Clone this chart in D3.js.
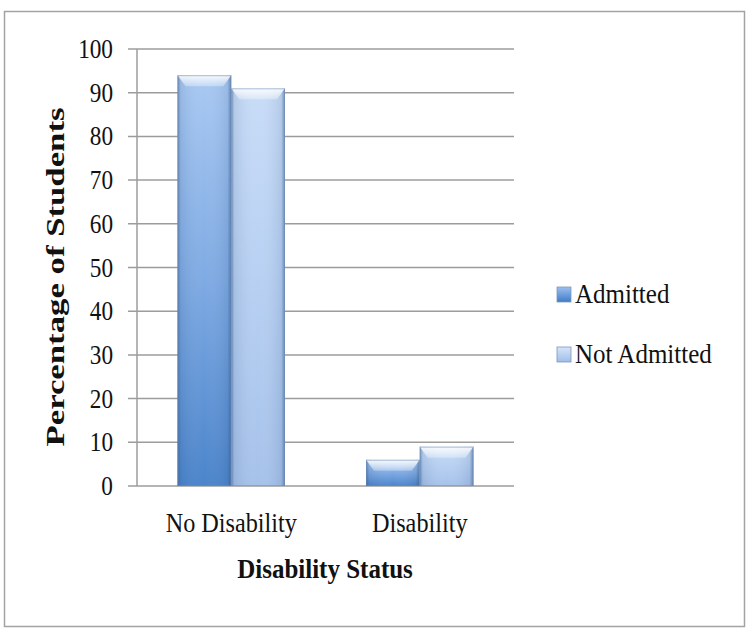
<!DOCTYPE html>
<html>
<head>
<meta charset="utf-8">
<script src="https://cdn.jsdelivr.net/npm/d3@7/dist/d3.min.js"></script>
<style>
  html, body { margin: 0; padding: 0; background: #fff; }
  svg { display: block; }
  text { font-family: "Liberation Serif", "DejaVu Serif", serif; fill: #111; }
</style>
</head>
<body>
<svg id="chart" width="747" height="628"></svg>
<script>
// Share of students by disability status, admitted vs not admitted
const categories = ["No Disability", "Disability"];
const seriesNames = ["Admitted", "Not Admitted"];
const admitted = [94, 6];
const notAdmitted = [91, 9];
const yTicks = [0, 10, 20, 30, 40, 50, 60, 70, 80, 90, 100];

const svg = d3.select("#chart");

// outer frame
svg.append("rect")
  .attr("x", 4.5).attr("y", 11.5)
  .attr("width", 740).attr("height", 615)
  .attr("fill", "#fff").attr("stroke", "#a3a3a3").attr("stroke-width", 1.5);

const plot = { left: 137, right: 514, top: 49, bottom: 486 };

const x = d3.scaleBand().domain(categories).range([plot.left, plot.right]).paddingInner(0.43).paddingOuter(0.215);
const xs = d3.scaleBand().domain(seriesNames).range([0, x.bandwidth()]);
const y = d3.scaleLinear().domain([0, 100]).range([plot.bottom, plot.top]);

// gradients
const defs = svg.append("defs");
function grad(id, horiz, stops) {
  const g = defs.append("linearGradient").attr("id", id)
    .attr("x1", 0).attr("y1", 0).attr("x2", horiz ? 1 : 0).attr("y2", horiz ? 0 : 1);
  stops.forEach(s => g.append("stop").attr("offset", s[0]).attr("stop-color", s[1])
    .attr("stop-opacity", s[2] == null ? 1 : s[2]));
}
grad("gAdm", false, [[0, "#a9c9f2"], [0.5, "#7eaae3"], [1, "#4a84cb"]]);
grad("gNot", false, [[0, "#c8dcf7"], [0.5, "#b7d0f2"], [1, "#a6c2ea"]]);
grad("gEdge", true, [[0, "#2a4d80", 0.5], [0.06, "#2a4d80", 0.12], [0.5, "#ffffff", 0.0], [0.93, "#2a4d80", 0.12], [1, "#2a4d80", 0.55]]);
grad("gTop", false, [[0, "#ffffff", 0.9], [1, "#ffffff", 0.3]]);
grad("lgAdm", false, [[0, "#9cc0ee"], [1, "#3f7cc8"]]);
grad("lgNot", false, [[0, "#d6e5f9"], [1, "#9fbde8"]]);

// gridlines, tick marks and value axis
svg.append("g").selectAll("line").data(yTicks).join("line")
  .attr("x1", plot.left - 9).attr("x2", plot.right)
  .attr("y1", d => y(d)).attr("y2", d => y(d))
  .attr("stroke", "#9c9c9c").attr("stroke-width", 1.5);
svg.append("line")
  .attr("x1", plot.left).attr("x2", plot.left)
  .attr("y1", y(100)).attr("y2", y(0))
  .attr("stroke", "#9c9c9c").attr("stroke-width", 1.5);

// tick labels, slightly narrow and tall
svg.append("g").selectAll("text").data(yTicks).join("text")
  .attr("transform", d => `translate(${plot.left - 24},${y(d) + 9}) scale(0.93,1.1)`)
  .attr("text-anchor", "end")
  .style("font-size", "25px").text(d => d);

// bars
const bars = [];
categories.forEach((c, i) => [admitted[i], notAdmitted[i]]
  .forEach((v, j) => bars.push({ cat: c, series: seriesNames[j], v, j })));

svg.append("g").selectAll("g").data(bars).join("g").each(function (d) {
  const g = d3.select(this);
  const x0 = x(d.cat) + xs(d.series), w = xs.bandwidth();
  const y0 = y(d.v), h = y(0) - y(d.v);
  const bev = Math.min(8, h * 0.35);
  g.append("rect").attr("x", x0).attr("y", y0).attr("width", w).attr("height", h)
    .attr("fill", d.j === 0 ? "url(#gAdm)" : "url(#gNot)");
  g.append("rect").attr("x", x0).attr("y", y0).attr("width", w).attr("height", h)
    .attr("fill", "url(#gEdge)");
  g.append("path")
    .attr("d", `M${x0},${y0} L${x0 + w},${y0} L${x0 + w - bev},${y0 + bev + 3} L${x0 + bev},${y0 + bev + 3} Z`)
    .attr("fill", "url(#gTop)");
  g.append("rect").attr("x", x0 + 0.5).attr("y", y0 + 0.5).attr("width", w - 1).attr("height", h - 1)
    .attr("fill", "none").attr("stroke", "#6d8cb5").attr("stroke-opacity", 0.55);
});

// category labels
svg.append("g").selectAll("text").data(categories).join("text")
  .attr("transform", d => `translate(${x(d) + x.bandwidth() / 2},532) scale(0.97,1.06)`)
  .attr("text-anchor", "middle").style("font-size", "25px").text(d => d);

// axis titles
svg.append("text").attr("transform", "translate(325,578) scale(1,1.06)").attr("text-anchor", "middle")
  .style("font-size", "25px").style("font-weight", "bold").text("Disability Status");
svg.append("text").attr("transform", "translate(64,277) rotate(-90)").attr("text-anchor", "middle")
  .attr("textLength", 339).attr("lengthAdjust", "spacingAndGlyphs")
  .style("font-size", "25px").style("font-weight", "bold").text("Percentage of Students");

// legend
const lg = svg.append("g").selectAll("g").data(seriesNames).join("g")
  .attr("transform", (d, i) => `translate(557,${303 + i * 60})`);
lg.append("rect").attr("x", 0).attr("y", -16).attr("width", 14).attr("height", 15)
  .attr("fill", (d, i) => i === 0 ? "url(#lgAdm)" : "url(#lgNot)")
  .attr("stroke", "#7d97bb").attr("stroke-width", 0.8);
lg.append("text").attr("transform", "translate(18,0) scale(1,1.06)")
  .style("font-size", "25px").text(d => d);
</script>
</body>
</html>
